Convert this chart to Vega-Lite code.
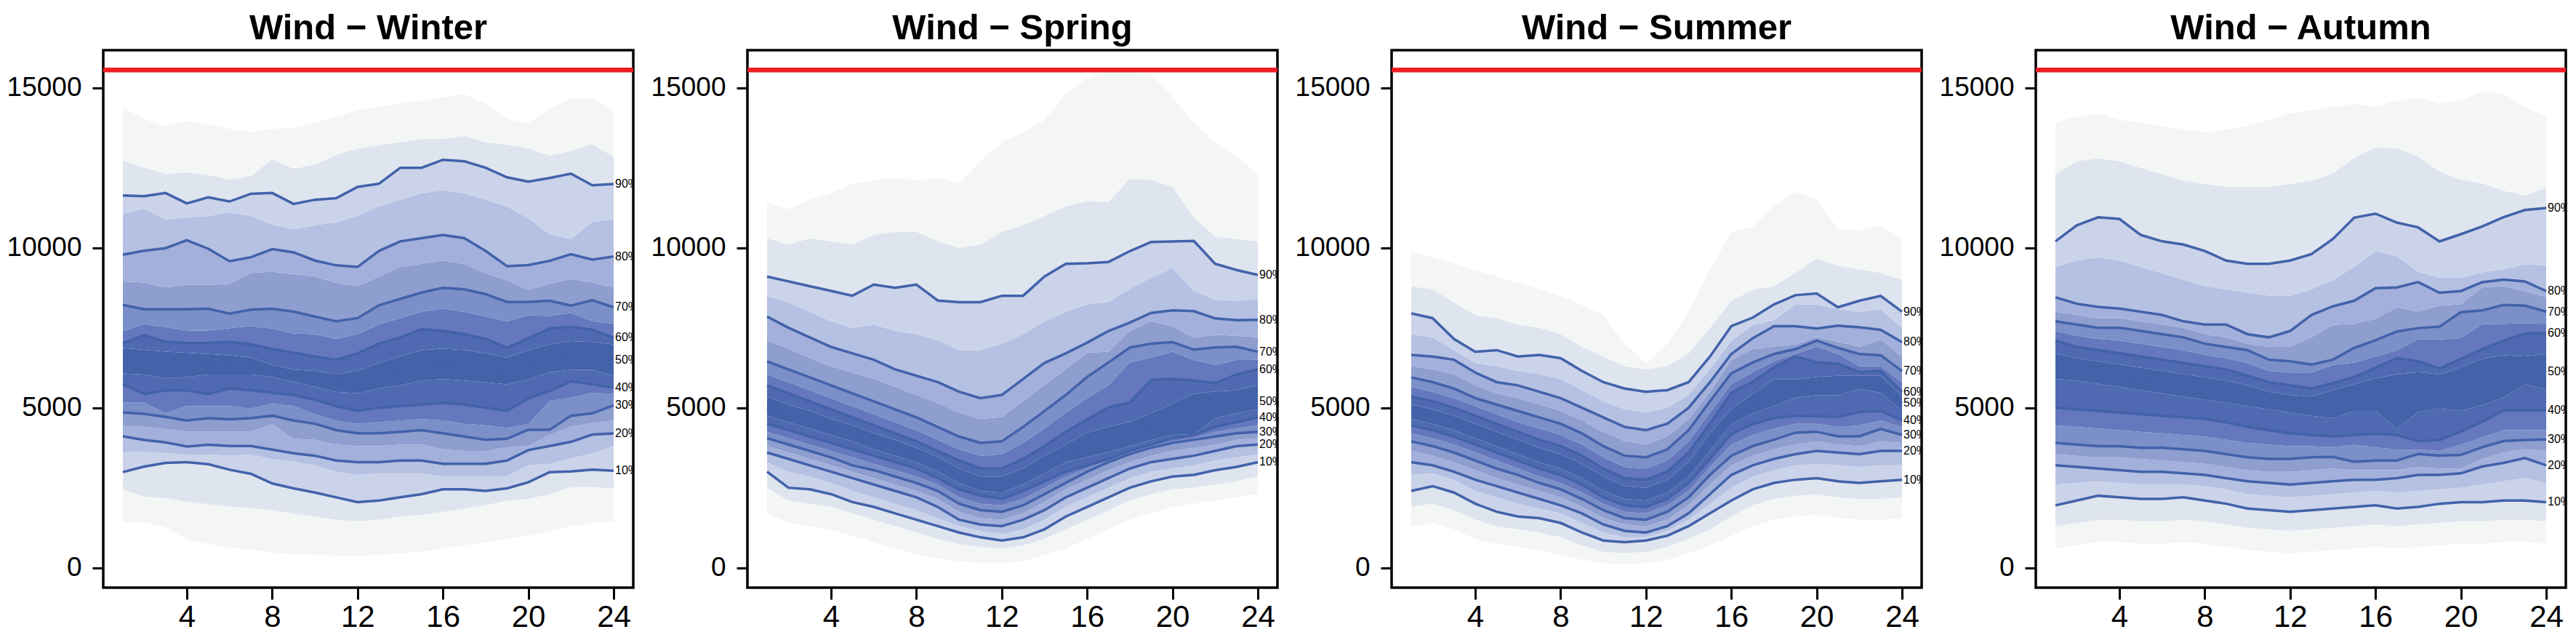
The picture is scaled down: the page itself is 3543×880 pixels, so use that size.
{
"$schema": "https://vega.github.io/schema/vega-lite/v6.json",
"background": "white",
"padding": {"left": 7, "top": 15, "right": 0, "bottom": 0},
"autosize": {"type": "pad"},
"config": {"view": {"stroke": "black", "strokeWidth": 3.5}, "font": "Liberation Sans"},
"datasets": {"w": [
{"s":"Winter","h":1,"01%":1422,"05%":2442,"10%":2988,"15%":3616,"20%":4107,"25%":4410,"30%":4849,"35%":5166,"40%":5734,"45%":6074,"50%":6470,"55%":6869,"60%":7020,"65%":7398,"70%":8215,"75%":8949,"80%":9782,"85%":11068,"90%":11635,"95%":12732,"99%":14396},
{"s":"Winter","h":2,"01%":1422,"05%":2215,"10%":3162,"15%":3616,"20%":3994,"25%":4410,"30%":4811,"35%":5166,"40%":5431,"45%":6036,"50%":6420,"55%":6808,"60%":7270,"65%":7610,"70%":8079,"75%":8911,"80%":9909,"85%":11218,"90%":11612,"95%":12505,"99%":14018},
{"s":"Winter","h":3,"01%":1270,"05%":2177,"10%":3275,"15%":3578,"20%":3918,"25%":4334,"30%":4713,"35%":4826,"40%":5545,"45%":5923,"50%":6340,"55%":6755,"60%":7058,"65%":7512,"70%":8079,"75%":8760,"80%":9986,"85%":10878,"90%":11711,"95%":12316,"99%":13791},
{"s":"Winter","h":4,"01%":893,"05%":2064,"10%":3298,"15%":3540,"20%":3790,"25%":4259,"30%":4599,"35%":5053,"40%":5545,"45%":5961,"50%":6340,"55%":6717,"60%":7020,"65%":7413,"70%":8079,"75%":8836,"80%":10236,"85%":10954,"90%":11385,"95%":12354,"99%":13965},
{"s":"Winter","h":5,"01%":741,"05%":1988,"10%":3237,"15%":3540,"20%":3843,"25%":4259,"30%":4675,"35%":5053,"40%":5431,"45%":6036,"50%":6360,"55%":6680,"60%":7020,"65%":7413,"70%":8094,"75%":8836,"80%":9970,"85%":10992,"90%":11574,"95%":12278,"99%":13867},
{"s":"Winter","h":6,"01%":628,"05%":1912,"10%":3063,"15%":3503,"20%":3805,"25%":4259,"30%":4637,"35%":5053,"40%":5605,"45%":6036,"50%":6340,"55%":6642,"60%":7058,"65%":7489,"70%":7943,"75%":8873,"80%":9578,"85%":11105,"90%":11446,"95%":12127,"99%":13716},
{"s":"Winter","h":7,"01%":552,"05%":1860,"10%":2935,"15%":3540,"20%":3805,"25%":4259,"30%":4675,"35%":4977,"40%":5545,"45%":6036,"50%":6300,"55%":6566,"60%":6982,"65%":7549,"70%":8064,"75%":9214,"80%":9705,"85%":10992,"90%":11688,"95%":12240,"99%":13617},
{"s":"Winter","h":8,"01%":476,"05%":1800,"10%":2632,"15%":3389,"20%":3691,"25%":4486,"30%":4750,"35%":5129,"40%":5469,"45%":5961,"50%":6150,"55%":6339,"60%":6831,"65%":7474,"70%":8094,"75%":9252,"80%":9955,"85%":10727,"90%":11711,"95%":12770,"99%":13716},
{"s":"Winter","h":9,"01%":423,"05%":1685,"10%":2481,"15%":3313,"20%":3578,"25%":4032,"30%":4599,"35%":5053,"40%":5393,"45%":5809,"50%":6000,"55%":6188,"60%":6717,"65%":7323,"70%":8003,"75%":9176,"80%":9857,"85%":10575,"90%":11370,"95%":12467,"99%":13753},
{"s":"Winter","h":10,"01%":400,"05%":1600,"10%":2350,"15%":3200,"20%":3500,"25%":4000,"30%":4500,"35%":4800,"40%":5250,"45%":5650,"50%":5900,"55%":6150,"60%":6600,"65%":7300,"70%":7850,"75%":9100,"80%":9600,"85%":10700,"90%":11500,"95%":12600,"99%":13900},
{"s":"Winter","h":11,"01%":380,"05%":1500,"10%":2200,"15%":3000,"20%":3350,"25%":3850,"30%":4300,"35%":4600,"40%":5050,"45%":5500,"50%":5780,"55%":6050,"60%":6500,"65%":7150,"70%":7700,"75%":8900,"80%":9450,"85%":10800,"90%":11550,"95%":12900,"99%":14100},
{"s":"Winter","h":12,"01%":370,"05%":1450,"10%":2050,"15%":2900,"20%":3300,"25%":3800,"30%":4200,"35%":4500,"40%":4900,"45%":5450,"50%":5800,"55%":6150,"60%":6700,"65%":7300,"70%":7800,"75%":8800,"80%":9400,"85%":11000,"90%":11900,"95%":13100,"99%":14300},
{"s":"Winter","h":13,"01%":400,"05%":1500,"10%":2100,"15%":2950,"20%":3300,"25%":3800,"30%":4200,"35%":4550,"40%":5000,"45%":5600,"50%":6000,"55%":6400,"60%":7000,"65%":7600,"70%":8200,"75%":9100,"80%":9900,"85%":11300,"90%":12000,"95%":13200,"99%":14400},
{"s":"Winter","h":14,"01%":450,"05%":1600,"10%":2200,"15%":2950,"20%":3350,"25%":3850,"30%":4250,"35%":4600,"40%":5050,"45%":5700,"50%":6150,"55%":6600,"60%":7200,"65%":7800,"70%":8400,"75%":9400,"80%":10200,"85%":11500,"90%":12500,"95%":13300,"99%":14500},
{"s":"Winter","h":15,"01%":500,"05%":1650,"10%":2300,"15%":2950,"20%":3350,"25%":3850,"30%":4300,"35%":4650,"40%":5100,"45%":5850,"50%":6320,"55%":6800,"60%":7450,"65%":8000,"70%":8600,"75%":9500,"80%":10300,"85%":11700,"90%":12500,"95%":13400,"99%":14600},
{"s":"Winter","h":16,"01%":600,"05%":1750,"10%":2450,"15%":2850,"20%":3250,"25%":3700,"30%":4200,"35%":4600,"40%":5150,"45%":5900,"50%":6370,"55%":6850,"60%":7400,"65%":8100,"70%":8750,"75%":9600,"80%":10400,"85%":11800,"90%":12750,"95%":13400,"99%":14700},
{"s":"Winter","h":17,"01%":700,"05%":1850,"10%":2450,"15%":2850,"20%":3250,"25%":3650,"30%":4100,"35%":4500,"40%":5100,"45%":5850,"50%":6320,"55%":6800,"60%":7300,"65%":8000,"70%":8700,"75%":9500,"80%":10300,"85%":11700,"90%":12700,"95%":13500,"99%":14800},
{"s":"Winter","h":18,"01%":800,"05%":1950,"10%":2400,"15%":2850,"20%":3250,"25%":3650,"30%":4000,"35%":4450,"40%":5000,"45%":5800,"50%":6250,"55%":6700,"60%":7150,"65%":7850,"70%":8550,"75%":9200,"80%":9900,"85%":11500,"90%":12500,"95%":13300,"99%":14500},
{"s":"Winter","h":19,"01%":900,"05%":2100,"10%":2480,"15%":2859,"20%":3350,"25%":3767,"30%":4031,"35%":4372,"40%":4901,"45%":5733,"50%":6150,"55%":6566,"60%":6868,"65%":7700,"70%":8306,"75%":8987,"80%":9425,"85%":11294,"90%":12202,"95%":13223,"99%":14018},
{"s":"Winter","h":20,"01%":1000,"05%":2150,"10%":2670,"15%":3200,"20%":3676,"25%":3804,"30%":4311,"35%":4485,"40%":5295,"45%":5885,"50%":6340,"55%":6793,"60%":7171,"65%":7889,"70%":8306,"75%":8684,"80%":9456,"85%":10916,"90%":12066,"95%":13110,"99%":13889},
{"s":"Winter","h":21,"01%":1150,"05%":2300,"10%":2987,"15%":3250,"20%":3804,"25%":4150,"30%":4311,"35%":5204,"40%":5522,"45%":6112,"50%":6550,"55%":6982,"60%":7473,"65%":7867,"70%":8344,"75%":8874,"80%":9592,"85%":10424,"90%":12179,"95%":12883,"99%":14358},
{"s":"Winter","h":22,"01%":1300,"05%":2518,"10%":3010,"15%":3426,"20%":3933,"25%":4410,"30%":4750,"35%":5318,"40%":5824,"45%":6187,"50%":6630,"55%":7080,"60%":7526,"65%":7965,"70%":8192,"75%":9025,"80%":9796,"85%":10273,"90%":12315,"95%":13034,"99%":14676},
{"s":"Winter","h":23,"01%":1400,"05%":2518,"10%":3063,"15%":3577,"20%":4160,"25%":4523,"30%":4826,"35%":5469,"40%":5733,"45%":6187,"50%":6620,"55%":7057,"60%":7436,"65%":7700,"70%":8359,"75%":8911,"80%":9630,"85%":10802,"90%":11952,"95%":13238,"99%":14683},
{"s":"Winter","h":24,"01%":1450,"05%":2480,"10%":3033,"15%":3804,"20%":4198,"25%":4599,"30%":5075,"35%":5431,"40%":5620,"45%":5998,"50%":6490,"55%":6982,"60%":7186,"65%":7625,"70%":8140,"75%":8760,"80%":9728,"85%":10901,"90%":11990,"95%":12845,"99%":14282},
{"s":"Spring","h":1,"01%":1700,"05%":2500,"10%":3000,"15%":3300,"20%":3600,"25%":3800,"30%":4050,"35%":4250,"40%":4500,"45%":4750,"50%":5000,"55%":5350,"60%":5700,"65%":6050,"70%":6450,"75%":7100,"80%":7850,"85%":8500,"90%":9100,"95%":10300,"99%":11400},
{"s":"Spring","h":2,"01%":1400,"05%":2100,"10%":2500,"15%":3000,"20%":3400,"25%":3600,"30%":3850,"35%":4050,"40%":4300,"45%":4550,"50%":4800,"55%":5100,"60%":5450,"65%":5800,"70%":6200,"75%":6850,"80%":7500,"85%":8300,"90%":8950,"95%":10100,"99%":11200},
{"s":"Spring","h":3,"01%":1300,"05%":2000,"10%":2450,"15%":2850,"20%":3200,"25%":3400,"30%":3650,"35%":3850,"40%":4100,"45%":4350,"50%":4600,"55%":4900,"60%":5200,"65%":5550,"70%":5950,"75%":6550,"80%":7200,"85%":8000,"90%":8800,"95%":10300,"99%":11500},
{"s":"Spring","h":4,"01%":1200,"05%":1900,"10%":2300,"15%":2650,"20%":3000,"25%":3200,"30%":3450,"35%":3650,"40%":3900,"45%":4150,"50%":4400,"55%":4650,"60%":4950,"65%":5300,"70%":5700,"75%":6300,"80%":6900,"85%":7700,"90%":8650,"95%":10200,"99%":11700},
{"s":"Spring","h":5,"01%":1000,"05%":1700,"10%":2050,"15%":2400,"20%":2800,"25%":3000,"30%":3200,"35%":3450,"40%":3700,"45%":3950,"50%":4200,"55%":4450,"60%":4700,"65%":5050,"70%":5450,"75%":6100,"80%":6700,"85%":7500,"90%":8500,"95%":10100,"99%":12000},
{"s":"Spring","h":6,"01%":800,"05%":1500,"10%":1900,"15%":2200,"20%":2600,"25%":2800,"30%":3050,"35%":3250,"40%":3500,"45%":3700,"50%":3950,"55%":4200,"60%":4450,"65%":4800,"70%":5200,"75%":5900,"80%":6500,"85%":7600,"90%":8850,"95%":10400,"99%":12100},
{"s":"Spring","h":7,"01%":600,"05%":1300,"10%":1700,"15%":2000,"20%":2400,"25%":2600,"30%":2850,"35%":3050,"40%":3300,"45%":3500,"50%":3750,"55%":4000,"60%":4200,"65%":4550,"70%":4950,"75%":5650,"80%":6200,"85%":7400,"90%":8750,"95%":10500,"99%":12200},
{"s":"Spring","h":8,"01%":400,"05%":1100,"10%":1500,"15%":1800,"20%":2200,"25%":2400,"30%":2650,"35%":2850,"40%":3100,"45%":3300,"50%":3500,"55%":3750,"60%":3950,"65%":4300,"70%":4700,"75%":5400,"80%":6000,"85%":7300,"90%":8850,"95%":10500,"99%":12100},
{"s":"Spring","h":9,"01%":300,"05%":900,"10%":1300,"15%":1550,"20%":1900,"25%":2150,"30%":2400,"35%":2600,"40%":2800,"45%":3000,"50%":3200,"55%":3450,"60%":3650,"65%":4000,"70%":4400,"75%":5150,"80%":5800,"85%":7100,"90%":8350,"95%":10200,"99%":12200},
{"s":"Spring","h":10,"01%":200,"05%":750,"10%":1100,"15%":1300,"20%":1500,"25%":1750,"30%":2000,"35%":2200,"40%":2450,"45%":2650,"50%":2850,"55%":3100,"60%":3350,"65%":3700,"70%":4100,"75%":4850,"80%":5500,"85%":6800,"90%":8300,"95%":10000,"99%":12000},
{"s":"Spring","h":11,"01%":150,"05%":650,"10%":950,"15%":1150,"20%":1350,"25%":1550,"30%":1800,"35%":2000,"40%":2250,"45%":2400,"50%":2600,"55%":2850,"60%":3100,"65%":3500,"70%":3900,"75%":4650,"80%":5300,"85%":6800,"90%":8300,"95%":10100,"99%":12700},
{"s":"Spring","h":12,"01%":150,"05%":600,"10%":850,"15%":1050,"20%":1300,"25%":1500,"30%":1750,"35%":1950,"40%":2150,"45%":2350,"50%":2550,"55%":2850,"60%":3100,"65%":3550,"70%":3950,"75%":4700,"80%":5400,"85%":7000,"90%":8500,"95%":10500,"99%":13300},
{"s":"Spring","h":13,"01%":200,"05%":700,"10%":950,"15%":1200,"20%":1500,"25%":1700,"30%":1950,"35%":2150,"40%":2400,"45%":2600,"50%":2800,"55%":3100,"60%":3400,"65%":3900,"70%":4400,"75%":5200,"80%":5900,"85%":7300,"90%":8500,"95%":10700,"99%":13600},
{"s":"Spring","h":14,"01%":400,"05%":900,"10%":1200,"15%":1500,"20%":1800,"25%":2050,"30%":2300,"35%":2500,"40%":2700,"45%":2950,"50%":3200,"55%":3500,"60%":3800,"65%":4350,"70%":4900,"75%":5700,"80%":6400,"85%":7700,"90%":9100,"95%":11000,"99%":14000},
{"s":"Spring","h":15,"01%":600,"05%":1200,"10%":1600,"15%":1900,"20%":2200,"25%":2450,"30%":2650,"35%":2850,"40%":3000,"45%":3300,"50%":3500,"55%":3850,"60%":4250,"65%":4850,"70%":5400,"75%":6200,"80%":6700,"85%":8000,"90%":9500,"95%":11300,"99%":14800},
{"s":"Spring","h":16,"01%":900,"05%":1500,"10%":1900,"15%":2200,"20%":2500,"25%":2750,"30%":3000,"35%":3100,"40%":3200,"45%":3464,"50%":3800,"55%":4220,"60%":4636,"65%":5300,"70%":5960,"75%":6717,"80%":7035,"85%":8230,"90%":9516,"95%":11450,"99%":15300},
{"s":"Spring","h":17,"01%":1200,"05%":1800,"10%":2200,"15%":2500,"20%":2800,"25%":3050,"30%":3300,"35%":3350,"40%":3400,"45%":3615,"50%":4000,"55%":4409,"60%":5015,"65%":5700,"70%":6414,"75%":6755,"80%":7398,"85%":8306,"90%":9554,"95%":11430,"99%":15500},
{"s":"Spring","h":18,"01%":1500,"05%":2100,"10%":2500,"15%":2800,"20%":3100,"25%":3300,"30%":3550,"35%":3600,"40%":3650,"45%":3805,"50%":4200,"55%":4561,"60%":5166,"65%":6414,"70%":6883,"75%":7398,"80%":7662,"85%":8722,"90%":9894,"95%":12150,"99%":15500},
{"s":"Spring","h":19,"01%":1700,"05%":2300,"10%":2700,"15%":3000,"20%":3300,"25%":3500,"30%":3750,"35%":3800,"40%":3850,"45%":3994,"50%":4400,"55%":4826,"60%":5870,"65%":6566,"70%":7005,"75%":7700,"80%":7965,"85%":9062,"90%":10182,"95%":12130,"99%":15400},
{"s":"Spring","h":20,"01%":1900,"05%":2450,"10%":2850,"15%":3100,"20%":3400,"25%":3650,"30%":3900,"35%":3950,"40%":4050,"45%":4145,"50%":4650,"55%":5128,"60%":5900,"65%":6755,"70%":7050,"75%":7549,"80%":8041,"85%":9365,"90%":10197,"95%":11900,"99%":14700},
{"s":"Spring","h":21,"01%":2000,"05%":2500,"10%":2900,"15%":3200,"20%":3500,"25%":3750,"30%":4000,"35%":4050,"40%":4150,"45%":4182,"50%":4800,"55%":5431,"60%":5850,"65%":6490,"70%":6815,"75%":7186,"80%":8018,"85%":8646,"90%":10212,"95%":10950,"99%":13900},
{"s":"Spring","h":22,"01%":2100,"05%":2600,"10%":3050,"15%":3350,"20%":3650,"25%":3850,"30%":4100,"35%":4250,"40%":4400,"45%":4674,"50%":5000,"55%":5507,"60%":5770,"65%":6339,"70%":6883,"75%":7284,"80%":7791,"85%":8381,"90%":9501,"95%":10350,"99%":13300},
{"s":"Spring","h":23,"01%":2200,"05%":2700,"10%":3150,"15%":3450,"20%":3800,"25%":4000,"30%":4200,"35%":4350,"40%":4550,"45%":4826,"50%":5150,"55%":5545,"60%":6040,"65%":6490,"70%":6906,"75%":7246,"80%":7738,"85%":8343,"90%":9304,"95%":10270,"99%":12850},
{"s":"Spring","h":24,"01%":2300,"05%":2850,"10%":3300,"15%":3550,"20%":3850,"25%":4050,"30%":4250,"35%":4450,"40%":4700,"45%":4950,"50%":5200,"55%":5700,"60%":6200,"65%":6500,"70%":6750,"75%":7200,"80%":7750,"85%":8400,"90%":9150,"95%":10200,"99%":12300},
{"s":"Summer","h":1,"01%":1300,"05%":1900,"10%":2400,"15%":2900,"20%":3300,"25%":3650,"30%":3950,"35%":4200,"40%":4450,"45%":4650,"50%":4900,"55%":5100,"60%":5350,"65%":5650,"70%":5950,"75%":6300,"80%":6650,"85%":7300,"90%":7950,"95%":8800,"99%":9900},
{"s":"Summer","h":2,"01%":1400,"05%":2000,"10%":2550,"15%":2950,"20%":3200,"25%":3500,"30%":3800,"35%":4050,"40%":4300,"45%":4500,"50%":4750,"55%":4950,"60%":5200,"65%":5500,"70%":5800,"75%":6200,"80%":6600,"85%":7200,"90%":7800,"95%":8700,"99%":9700},
{"s":"Summer","h":3,"01%":1200,"05%":1800,"10%":2350,"15%":2750,"20%":3000,"25%":3300,"30%":3600,"35%":3850,"40%":4100,"45%":4300,"50%":4550,"55%":4750,"60%":5000,"65%":5300,"70%":5600,"75%":6050,"80%":6500,"85%":6800,"90%":7150,"95%":8300,"99%":9500},
{"s":"Summer","h":4,"01%":900,"05%":1500,"10%":2000,"15%":2400,"20%":2750,"25%":3050,"30%":3350,"35%":3600,"40%":3850,"45%":4050,"50%":4300,"55%":4500,"60%":4750,"65%":5050,"70%":5300,"75%":5700,"80%":6100,"85%":6400,"90%":6750,"95%":7900,"99%":9300},
{"s":"Summer","h":5,"01%":750,"05%":1300,"10%":1750,"15%":2200,"20%":2550,"25%":2800,"30%":3100,"35%":3350,"40%":3600,"45%":3800,"50%":4050,"55%":4250,"60%":4500,"65%":4800,"70%":5100,"75%":5450,"80%":5800,"85%":6300,"90%":6800,"95%":7800,"99%":9100},
{"s":"Summer","h":6,"01%":650,"05%":1200,"10%":1600,"15%":2000,"20%":2350,"25%":2600,"30%":2900,"35%":3100,"40%":3350,"45%":3550,"50%":3800,"55%":4000,"60%":4250,"65%":4550,"70%":4900,"75%":5300,"80%":5700,"85%":6150,"90%":6600,"95%":7600,"99%":8900},
{"s":"Summer","h":7,"01%":550,"05%":1100,"10%":1550,"15%":1850,"20%":2150,"25%":2400,"30%":2650,"35%":2850,"40%":3100,"45%":3300,"50%":3550,"55%":3750,"60%":4000,"65%":4350,"70%":4700,"75%":5100,"80%":5500,"85%":6050,"90%":6650,"95%":7500,"99%":8700},
{"s":"Summer","h":8,"01%":400,"05%":950,"10%":1400,"15%":1700,"20%":1950,"25%":2200,"30%":2450,"35%":2650,"40%":2900,"45%":3100,"50%":3350,"55%":3550,"60%":3800,"65%":4150,"70%":4500,"75%":4900,"80%":5300,"85%":5900,"90%":6550,"95%":7300,"99%":8500},
{"s":"Summer","h":9,"01%":250,"05%":700,"10%":1100,"15%":1400,"20%":1700,"25%":1900,"30%":2150,"35%":2350,"40%":2600,"45%":2800,"50%":3050,"55%":3250,"60%":3500,"65%":3850,"70%":4200,"75%":4600,"80%":5000,"85%":5550,"90%":6150,"95%":6900,"99%":8200},
{"s":"Summer","h":10,"01%":150,"05%":500,"10%":850,"15%":1100,"20%":1350,"25%":1550,"30%":1800,"35%":2000,"40%":2200,"45%":2400,"50%":2650,"55%":2850,"60%":3100,"65%":3450,"70%":3800,"75%":4250,"80%":4700,"85%":5200,"90%":5800,"95%":6600,"99%":7900},
{"s":"Summer","h":11,"01%":100,"05%":450,"10%":800,"15%":950,"20%":1150,"25%":1350,"30%":1550,"35%":1750,"40%":1950,"45%":2150,"50%":2350,"55%":2550,"60%":2800,"65%":3150,"70%":3500,"75%":3950,"80%":4400,"85%":4950,"90%":5600,"95%":6300,"99%":7000},
{"s":"Summer","h":12,"01%":150,"05%":500,"10%":850,"15%":950,"20%":1100,"25%":1300,"30%":1500,"35%":1700,"40%":1900,"45%":2100,"50%":2300,"55%":2500,"60%":2750,"65%":3100,"70%":3450,"75%":3850,"80%":4300,"85%":4850,"90%":5500,"95%":6200,"99%":6400},
{"s":"Summer","h":13,"01%":250,"05%":650,"10%":1000,"15%":1150,"20%":1300,"25%":1500,"30%":1750,"35%":1950,"40%":2150,"45%":2350,"50%":2550,"55%":2750,"60%":3000,"65%":3350,"70%":3700,"75%":4100,"80%":4500,"85%":5000,"90%":5550,"95%":6300,"99%":7000},
{"s":"Summer","h":14,"01%":450,"05%":900,"10%":1300,"15%":1500,"20%":1700,"25%":1950,"30%":2200,"35%":2400,"40%":2650,"45%":2850,"50%":3100,"55%":3300,"60%":3600,"65%":3950,"70%":4300,"75%":4650,"80%":5000,"85%":5400,"90%":5800,"95%":6700,"99%":8000},
{"s":"Summer","h":15,"01%":700,"05%":1200,"10%":1700,"15%":2000,"20%":2300,"25%":2600,"30%":2900,"35%":3150,"40%":3400,"45%":3650,"50%":3900,"55%":4200,"60%":4500,"65%":4850,"70%":5200,"75%":5500,"80%":5800,"85%":6200,"90%":6600,"95%":7500,"99%":9300},
{"s":"Summer","h":16,"01%":1000,"05%":1600,"10%":2100,"15%":2500,"20%":2900,"25%":3200,"30%":3500,"35%":3850,"40%":4183,"45%":4486,"50%":4750,"55%":4977,"60%":5469,"65%":5734,"70%":6074,"75%":6490,"80%":6680,"85%":7096,"90%":7550,"95%":8344,"99%":10500},
{"s":"Summer","h":17,"01%":1300,"05%":1950,"10%":2450,"15%":2850,"20%":3200,"25%":3500,"30%":3800,"35%":4150,"40%":4486,"45%":4826,"50%":5100,"55%":5431,"60%":5809,"65%":6112,"70%":6415,"75%":6831,"80%":7171,"85%":7587,"90%":7815,"95%":8684,"99%":10651},
{"s":"Summer","h":18,"01%":1500,"05%":2150,"10%":2650,"15%":3050,"20%":3400,"25%":3700,"30%":4000,"35%":4350,"40%":4675,"45%":5053,"50%":5450,"55%":5885,"60%":6264,"65%":6453,"70%":6680,"75%":6906,"80%":7549,"85%":7738,"90%":8230,"95%":8798,"99%":11294},
{"s":"Summer","h":19,"01%":1600,"05%":2250,"10%":2750,"15%":3200,"20%":3550,"25%":3850,"30%":4221,"35%":4500,"40%":4750,"45%":5318,"50%":5600,"55%":5885,"60%":6604,"65%":6680,"70%":6831,"75%":6982,"80%":7549,"85%":8230,"90%":8518,"95%":9214,"99%":11748},
{"s":"Summer","h":20,"01%":1650,"05%":2300,"10%":2800,"15%":3250,"20%":3650,"25%":3950,"30%":4250,"35%":4500,"40%":4730,"45%":5393,"50%":5650,"55%":5961,"60%":6415,"65%":6906,"70%":7096,"75%":7209,"80%":7474,"85%":8230,"90%":8571,"95%":9668,"99%":11521},
{"s":"Summer","h":21,"01%":1550,"05%":2200,"10%":2700,"15%":3200,"20%":3600,"25%":3850,"30%":4107,"35%":4400,"40%":4713,"45%":5393,"50%":5700,"55%":5999,"60%":6377,"65%":6680,"70%":6869,"75%":7058,"80%":7565,"85%":8079,"90%":8140,"95%":9441,"99%":10576},
{"s":"Summer","h":22,"01%":1500,"05%":2150,"10%":2650,"15%":3150,"20%":3550,"25%":3800,"30%":4107,"35%":4450,"40%":4864,"45%":5583,"50%":5750,"55%":5999,"60%":6112,"65%":6301,"70%":6680,"75%":6906,"80%":7512,"85%":8003,"90%":8344,"95%":9327,"99%":10538},
{"s":"Summer","h":23,"01%":1500,"05%":2150,"10%":2700,"15%":3200,"20%":3650,"25%":3950,"30%":4335,"35%":4600,"40%":4902,"45%":5469,"50%":5700,"55%":5999,"60%":6150,"65%":6301,"70%":6642,"75%":7133,"80%":7436,"85%":8079,"90%":8495,"95%":9214,"99%":10689},
{"s":"Summer","h":24,"01%":1550,"05%":2200,"10%":2750,"15%":3200,"20%":3650,"25%":3900,"30%":4150,"35%":4400,"40%":4600,"45%":4900,"50%":5150,"55%":5350,"60%":5500,"65%":5800,"70%":6150,"75%":6600,"80%":7050,"85%":7500,"90%":8000,"95%":9000,"99%":10300},
{"s":"Autumn","h":1,"01%":600,"05%":1300,"10%":1950,"15%":2600,"20%":3200,"25%":3550,"30%":3900,"35%":4450,"40%":5000,"45%":5900,"50%":6300,"55%":6700,"60%":7100,"65%":7400,"70%":7700,"75%":8000,"80%":8450,"85%":9400,"90%":10200,"95%":12300,"99%":13900},
{"s":"Autumn","h":2,"01%":700,"05%":1400,"10%":2100,"15%":2650,"20%":3150,"25%":3500,"30%":3850,"35%":4400,"40%":4950,"45%":5850,"50%":6200,"55%":6550,"60%":6900,"65%":7250,"70%":7600,"75%":7900,"80%":8250,"85%":9600,"90%":10700,"95%":12700,"99%":14100},
{"s":"Autumn","h":3,"01%":800,"05%":1500,"10%":2250,"15%":2700,"20%":3100,"25%":3450,"30%":3800,"35%":4350,"40%":4900,"45%":5750,"50%":6100,"55%":6450,"60%":6800,"65%":7150,"70%":7500,"75%":7800,"80%":8150,"85%":9700,"90%":10950,"95%":12800,"99%":14200},
{"s":"Autumn","h":4,"01%":800,"05%":1500,"10%":2200,"15%":2650,"20%":3050,"25%":3450,"30%":3800,"35%":4300,"40%":4850,"45%":5650,"50%":6000,"55%":6350,"60%":6700,"65%":7100,"70%":7500,"75%":7800,"80%":8100,"85%":9600,"90%":10900,"95%":12700,"99%":14000},
{"s":"Autumn","h":5,"01%":750,"05%":1450,"10%":2150,"15%":2600,"20%":3000,"25%":3400,"30%":3750,"35%":4250,"40%":4800,"45%":5550,"50%":5900,"55%":6250,"60%":6600,"65%":7000,"70%":7400,"75%":7700,"80%":8000,"85%":9400,"90%":10400,"95%":12500,"99%":13900},
{"s":"Autumn","h":6,"01%":750,"05%":1450,"10%":2150,"15%":2600,"20%":3000,"25%":3350,"30%":3750,"35%":4200,"40%":4750,"45%":5450,"50%":5800,"55%":6150,"60%":6500,"65%":6900,"70%":7300,"75%":7600,"80%":7900,"85%":9200,"90%":10200,"95%":12300,"99%":13800},
{"s":"Autumn","h":7,"01%":800,"05%":1500,"10%":2200,"15%":2600,"20%":2950,"25%":3300,"30%":3700,"35%":4150,"40%":4700,"45%":5350,"50%":5700,"55%":6050,"60%":6400,"65%":6800,"70%":7200,"75%":7500,"80%":7700,"85%":9000,"90%":10100,"95%":12100,"99%":13700},
{"s":"Autumn","h":8,"01%":750,"05%":1450,"10%":2100,"15%":2550,"20%":2900,"25%":3250,"30%":3650,"35%":4100,"40%":4650,"45%":5250,"50%":5600,"55%":5950,"60%":6300,"65%":6650,"70%":7000,"75%":7300,"80%":7600,"85%":8800,"90%":9900,"95%":12000,"99%":13600},
{"s":"Autumn","h":9,"01%":650,"05%":1350,"10%":2000,"15%":2450,"20%":2800,"25%":3150,"30%":3550,"35%":4000,"40%":4550,"45%":5150,"50%":5500,"55%":5850,"60%":6200,"65%":6550,"70%":6900,"75%":7200,"80%":7600,"85%":8700,"90%":9600,"95%":11900,"99%":13700},
{"s":"Autumn","h":10,"01%":550,"05%":1250,"10%":1850,"15%":2300,"20%":2700,"25%":3050,"30%":3450,"35%":3900,"40%":4400,"45%":5050,"50%":5375,"55%":5700,"60%":6000,"65%":6400,"70%":6800,"75%":7000,"80%":7300,"85%":8600,"90%":9500,"95%":11900,"99%":13800},
{"s":"Autumn","h":11,"01%":500,"05%":1200,"10%":1800,"15%":2250,"20%":2650,"25%":3000,"30%":3400,"35%":3850,"40%":4300,"45%":4950,"50%":5225,"55%":5500,"60%":5800,"65%":6150,"70%":6500,"75%":6900,"80%":7200,"85%":8500,"90%":9500,"95%":11900,"99%":14000},
{"s":"Autumn","h":12,"01%":450,"05%":1150,"10%":1750,"15%":2200,"20%":2600,"25%":3000,"30%":3400,"35%":3800,"40%":4200,"45%":4850,"50%":5125,"55%":5400,"60%":5700,"65%":6100,"70%":6450,"75%":6900,"80%":7400,"85%":8500,"90%":9600,"95%":12000,"99%":14200},
{"s":"Autumn","h":13,"01%":500,"05%":1200,"10%":1800,"15%":2250,"20%":2650,"25%":3050,"30%":3450,"35%":3800,"40%":4150,"45%":4750,"50%":5050,"55%":5350,"60%":5600,"65%":6100,"70%":6350,"75%":7200,"80%":7900,"85%":8700,"90%":9800,"95%":12100,"99%":14300},
{"s":"Autumn","h":14,"01%":550,"05%":1250,"10%":1850,"15%":2300,"20%":2700,"25%":3100,"30%":3464,"35%":3770,"40%":4107,"45%":4674,"50%":5110,"55%":5545,"60%":5771,"65%":6339,"70%":6500,"75%":7587,"80%":8169,"85%":8986,"90%":10272,"95%":12315,"99%":14400},
{"s":"Autumn","h":15,"01%":600,"05%":1300,"10%":1900,"15%":2350,"20%":2750,"25%":3050,"30%":3313,"35%":3843,"40%":4145,"45%":4901,"50%":5320,"55%":5734,"60%":5960,"65%":6414,"70%":6868,"75%":7625,"80%":8343,"85%":9402,"90%":10938,"95%":12807,"99%":14500},
{"s":"Autumn","h":16,"01%":650,"05%":1350,"10%":1950,"15%":2400,"20%":2750,"25%":3050,"30%":3351,"35%":3767,"40%":4183,"45%":4901,"50%":5410,"55%":5923,"60%":6248,"65%":6603,"70%":7110,"75%":7776,"80%":8737,"85%":9894,"90%":11067,"95%":13132,"99%":14400},
{"s":"Autumn","h":17,"01%":600,"05%":1300,"10%":1850,"15%":2350,"20%":2800,"25%":3050,"30%":3351,"35%":3691,"40%":4145,"45%":4334,"50%":5185,"55%":6036,"60%":6550,"65%":6792,"70%":7383,"75%":8139,"80%":8760,"85%":9743,"90%":10787,"95%":13109,"99%":14600},
{"s":"Autumn","h":18,"01%":650,"05%":1350,"10%":1900,"15%":2400,"20%":2900,"25%":3150,"30%":3555,"35%":3691,"40%":3956,"45%":4863,"50%":5490,"55%":6112,"60%":6452,"65%":7133,"70%":7489,"75%":8003,"80%":8926,"85%":9251,"90%":10636,"95%":12844,"99%":14700},
{"s":"Autumn","h":19,"01%":700,"05%":1400,"10%":2000,"15%":2450,"20%":2900,"25%":3100,"30%":3502,"35%":3653,"40%":3994,"45%":4977,"50%":5505,"55%":6036,"60%":6225,"65%":7133,"70%":7534,"75%":8192,"80%":8593,"85%":9062,"90%":10197,"95%":12391,"99%":14500},
{"s":"Autumn","h":20,"01%":750,"05%":1450,"10%":2050,"15%":2500,"20%":2950,"25%":3100,"30%":3525,"35%":3843,"40%":4258,"45%":4901,"50%":5580,"55%":6263,"60%":6528,"65%":7171,"70%":7987,"75%":8230,"80%":8646,"85%":9062,"90%":10424,"95%":12126,"99%":14600},
{"s":"Autumn","h":21,"01%":750,"05%":1450,"10%":2050,"15%":2600,"20%":3161,"25%":3400,"30%":3766,"35%":4069,"40%":4561,"45%":5090,"50%":5810,"55%":6528,"60%":6830,"65%":7610,"70%":8041,"75%":8760,"80%":8926,"85%":9229,"90%":10666,"95%":12012,"99%":14900},
{"s":"Autumn","h":22,"01%":800,"05%":1500,"10%":2100,"15%":2700,"20%":3275,"25%":3600,"30%":3956,"35%":4296,"40%":4917,"45%":5317,"50%":5980,"55%":6641,"60%":7095,"65%":7625,"70%":8215,"75%":8797,"80%":9002,"85%":9327,"90%":10954,"95%":11785,"99%":14800},
{"s":"Autumn","h":23,"01%":800,"05%":1500,"10%":2100,"15%":2800,"20%":3426,"25%":3700,"30%":3994,"35%":4296,"40%":4917,"45%":5733,"50%":6170,"55%":6604,"60%":7322,"65%":7640,"70%":8192,"75%":8646,"80%":8949,"85%":9478,"90%":11180,"95%":11634,"99%":14400},
{"s":"Autumn","h":24,"01%":750,"05%":1450,"10%":2050,"15%":2650,"20%":3199,"25%":3650,"30%":4009,"35%":4296,"40%":4917,"45%":5582,"50%":6130,"55%":6679,"60%":7337,"65%":7625,"70%":8003,"75%":8457,"80%":8646,"85%":9455,"90%":11241,"95%":11876,"99%":14100}
]},
"data": {"name": "w"},
"transform": [
  {"fold": ["01%","05%","10%","15%","20%","25%","30%","35%","40%","45%","50%","55%","60%","65%","70%","75%","80%","85%","90%","95%","99%"], "as": ["k","v"]},
  {"window": [{"op": "lead", "field": "v", "as": "v2"}], "groupby": ["s","h"], "sort": [{"field": "k", "order": "ascending"}]}
],
"facet": {"column": {"field": "s", "type": "nominal", "sort": ["Winter","Spring","Summer","Autumn"], "title": null,
  "header": {"labelExpr": "'Wind − ' + datum.value", "labelFontSize": 49, "labelFontWeight": "bold", "labelFont": "Liberation Sans", "labelColor": "black", "labelPadding": -34, "labelBaseline": "alphabetic"}}},
"spacing": {"column": 157},
"bounds": "flush",
"resolve": {"axis": {"y": "independent"}},
"spec": {
  "width": 729,
  "height": 739,
  "layer": [
    {
      "transform": [{"filter": "datum.v2 != null"}],
      "mark": {"type": "area", "clip": true},
      "encoding": {
        "x": {"field": "h", "type": "quantitative", "title": null,
          "scale": {"domain": [0.08, 24.92], "nice": false, "zero": false},
          "axis": {"values": [4,8,12,16,20,24], "domain": false, "grid": false, "tickSize": 16, "tickWidth": 3, "tickColor": "black", "labelFontSize": 42, "labelFont": "Liberation Sans", "labelColor": "black", "labelPadding": 4}},
        "y": {"field": "v", "type": "quantitative", "title": null, "stack": null,
          "scale": {"domain": [-622, 16174], "nice": false, "zero": false},
          "axis": {"values": [0,5000,10000,15000], "format": "d", "domain": false, "grid": false, "tickSize": 15, "tickWidth": 3, "tickColor": "black", "labelFontSize": 37, "labelFont": "Liberation Sans", "labelColor": "black", "labelPadding": 15}},
        "y2": {"field": "v2"},
        "color": {"field": "k", "type": "nominal", "legend": null,
          "scale": {"domain": ["01%","05%","10%","15%","20%","25%","30%","35%","40%","45%","50%","55%","60%","65%","70%","75%","80%","85%","90%","95%"],
                    "range": ["#F4F6F6","#DFE5EF","#CBD3EA","#B5C1E2","#A2B0DB","#8E9ECF","#7B8FC8","#6578BD","#4F6AB3","#4262AA","#4262AA","#4F6AB3","#6578BD","#7B8FC8","#8E9ECF","#A2B0DB","#B5C1E2","#CBD3EA","#DFE5EF","#F4F6F6"]}}
      }
    },
    {
      "transform": [{"filter": {"field": "k", "oneOf": ["10%","20%","30%","40%","50%","60%","70%","80%","90%"]}}],
      "mark": {"type": "line", "color": "#4262AA", "strokeWidth": 3.5, "clip": true},
      "encoding": {
        "x": {"field": "h", "type": "quantitative", "title": null},
        "y": {"field": "v", "type": "quantitative", "title": null},
        "detail": {"field": "k"}
      }
    },
    {
      "transform": [{"filter": "datum.h === 1 && datum.k === '01%'"}],
      "mark": {"type": "rule", "color": "#EE1D25", "strokeWidth": 6.5},
      "encoding": {"y": {"datum": 15552}}
    },
    {
      "transform": [{"filter": {"and": [{"field": "h", "equal": 24}, {"field": "k", "oneOf": ["10%","20%","30%","40%","50%","60%","70%","80%","90%"]}]}}],
      "mark": {"type": "text", "align": "left", "baseline": "middle", "dx": 2, "fontSize": 16, "font": "Liberation Sans", "color": "black", "clip": true},
      "encoding": {
        "x": {"field": "h", "type": "quantitative", "title": null},
        "y": {"field": "v", "type": "quantitative", "title": null},
        "text": {"field": "k"}
      }
    }
  ]
}
}
